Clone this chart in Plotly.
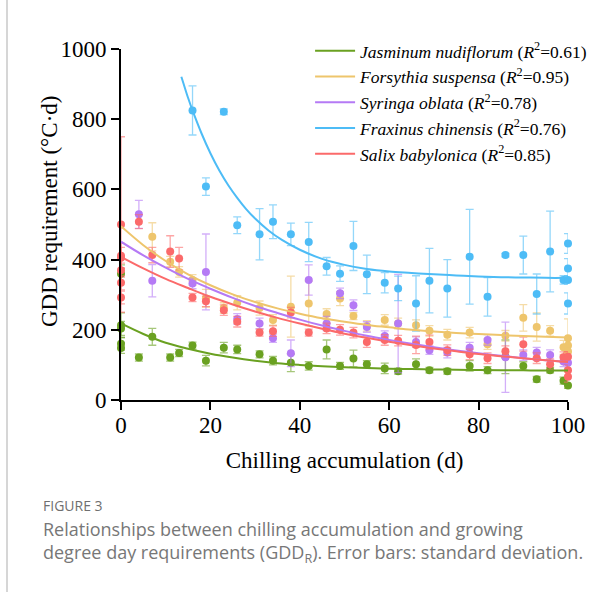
import plotly.graph_objects as go

# ---- observations: chilling accumulation (d), GDD requirement (°C·d), SD ----
jas_x = [0, 0, 0, 0, 0, 4, 7, 11, 13, 16, 19, 23, 26, 31, 34, 38, 42, 46, 49, 52, 55,
         59, 62, 66, 69, 73, 78, 82, 86, 90, 93, 96, 99, 100]
jas_y = [360, 213, 204, 160, 148, 121, 180, 121, 134, 155, 112, 149, 144, 130, 112, 106,
         97, 144, 97, 118, 102, 90, 82, 102, 85, 82, 97, 85, 123, 97, 59, 85, 55, 41]
jas_sd = [25, 35, 20, 18, 15, 10, 24, 10, 10, 10, 15, 15, 12, 10, 12, 25, 12, 27, 10, 24,
          10, 15, 8, 15, 8, 8, 15, 10, 48, 12, 8, 8, 10, 8]

for_x = [7, 11, 13, 16, 19, 23, 26, 31, 34, 38, 42, 46, 49, 52, 55, 59, 62, 66, 69, 73,
         78, 82, 86, 90, 93, 96, 99, 100, 100, 100]
for_y = [465, 394, 365, 342, 290, 262, 277, 262, 228, 266, 275, 245, 289, 239, 211, 228,
         218, 213, 197, 186, 192, 159, 183, 234, 208, 197, 150, 176, 155, 138]
for_sd = [40, 15, 15, 15, 25, 15, 20, 20, 15, 87, 64, 15, 20, 10, 15, 15, 15, 15, 15, 15,
          15, 15, 15, 38, 40, 15, 20, 55, 20, 15]

syr_x = [4, 7, 16, 19, 26, 31, 34, 38, 42, 46, 49, 52, 55, 59, 62, 66, 69, 73, 78, 82,
         86, 90, 93, 96, 99, 100]
syr_y = [529, 340, 332, 365, 231, 218, 176, 133, 342, 218, 304, 270, 208, 182, 218, 165,
         142, 135, 149, 171, 122, 128, 135, 128, 110, 106]
syr_sd = [40, 46, 15, 108, 15, 15, 12, 38, 43, 20, 15, 15, 15, 15, 140, 15, 12, 15, 15,
          15, 100, 15, 15, 15, 15, 15]

fra_x = [16, 19, 23, 26, 31, 34, 38, 42, 46, 49, 52, 55, 59, 62, 66, 69, 73, 78, 82, 86,
         90, 93, 96, 100, 100, 99, 100, 100]
fra_y = [825, 608, 821, 498, 472, 508, 472, 450, 381, 360, 439, 358, 334, 318, 275, 340,
         318, 408, 294, 413, 413, 302, 423, 446, 375, 342, 342, 275]
fra_sd = [70, 25, 8, 24, 73, 48, 32, 56, 25, 22, 70, 55, 29, 35, 79, 92, 82, 135, 55, 5,
          54, 57, 115, 28, 28, 12, 12, 30]

sal_x = [0, 0, 0, 0, 0, 0, 4, 7, 11, 13, 16, 19, 23, 26, 31, 34, 38, 42, 46, 49, 52, 55,
         59, 62, 66, 69, 73, 78, 82, 86, 90, 93, 96, 99, 100, 100, 100]
sal_y = [500, 411, 405, 370, 334, 292, 508, 413, 423, 403, 292, 281, 256, 223, 192, 196,
         249, 192, 204, 200, 192, 165, 171, 169, 157, 165, 142, 130, 119, 139, 159, 119,
         102, 122, 123, 85, 66]
sal_sd = [250, 35, 30, 20, 20, 18, 20, 22, 45, 32, 12, 15, 15, 15, 10, 15, 15, 10, 15, 15,
          15, 15, 15, 15, 25, 20, 15, 15, 15, 15, 20, 15, 15, 15, 15, 15, 15]

# ---- fitted response curves ----
fit_x = [0, 5, 10, 15, 20, 25, 30, 35, 40, 45, 50, 55, 60, 65, 70, 75, 80, 85, 90, 95, 100]
jas_fit = [218, 188, 163, 146, 132, 121, 112, 105, 100, 96, 93, 91, 89, 88, 87, 86, 85.5,
           85, 84.5, 84, 84]
for_fit = [495, 441, 396, 358, 327, 301, 279, 261, 246, 233, 223, 214, 207, 200, 195, 191,
           188, 185, 182, 180, 178]
syr_fit = [451, 412, 377, 345, 317, 291, 268, 248, 229, 212, 197, 183, 171, 160, 150, 141,
           133, 126, 119, 113, 108]
sal_fit = [408, 375, 345, 319, 294, 272, 252, 234, 218, 203, 189, 177, 166, 156, 147, 139,
           131, 125, 119, 113, 108]
fra_fit_x = [13.5, 14, 15, 16, 18, 20, 22, 24, 26, 28, 30, 33, 36, 40, 45, 50, 55, 60, 65,
             70, 75, 80, 85, 90, 95, 100]
fra_fit = [921, 901, 861, 825, 760, 703, 654, 612, 576, 544, 517, 483, 456, 428, 402, 385,
           373, 366, 362, 358, 355, 352, 350, 349, 348, 348]

species = [
    ("Jasminum nudiflorum", "0.61", jas_x, jas_y, jas_sd, fit_x, jas_fit, (106, 161, 33)),
    ("Forsythia suspensa", "0.95", for_x, for_y, for_sd, fit_x, for_fit, (238, 197, 108)),
    ("Syringa oblata", "0.78", syr_x, syr_y, syr_sd, fit_x, syr_fit, (181, 122, 245)),
    ("Fraxinus chinensis", "0.76", fra_x, fra_y, fra_sd, fra_fit_x, fra_fit, (77, 188, 246)),
    ("Salix babylonica", "0.85", sal_x, sal_y, sal_sd, fit_x, sal_fit, (251, 106, 106)),
]

SERIF = "Liberation Serif, Times New Roman, serif"
SANS = "Open Sans, Noto Sans, sans-serif"


def rgb(c, a=1.0):
    return f"rgba({c[0]},{c[1]},{c[2]},{a})"


fig = go.Figure()

# observed means with SD bars
for name, r2, x, y, sd, fx, fy, c in species:
    fig.add_trace(go.Scatter(
        x=x, y=y, mode="markers", showlegend=False, cliponaxis=False,
        marker=dict(size=8, color=rgb(c), line=dict(width=0)),
        error_y=dict(type="data", array=sd, visible=True, color=rgb(c, 0.6),
                     thickness=1.3, width=4),
    ))

# fitted curves (legend entries)
for name, r2, x, y, sd, fx, fy, c in species:
    fig.add_trace(go.Scatter(
        x=fx, y=fy, mode="lines", line=dict(color=rgb(c), width=2, shape="spline"),
        name=f"<i>{name}</i> (<i>R</i><sup>2</sup>=" + r2 + ")",
    ))

axis_common = dict(
    showline=True, linewidth=2, linecolor="black", mirror=False,
    ticks="outside", ticklen=8, tickwidth=2, tickcolor="black",
    showgrid=False, zeroline=False,
    tickfont=dict(family=SERIF, size=23, color="black"),
)

fig.update_layout(
    width=614, height=592,
    margin=dict(l=121, r=46, t=49, b=192),
    paper_bgcolor="white", plot_bgcolor="white",
    xaxis=dict(range=[0, 100], tickvals=[0, 20, 40, 60, 80, 100], ticklabelstandoff=-5,
               title=dict(text="Chilling accumulation (d)",
                          font=dict(family=SERIF, size=23, color="black"), standoff=15),
               **axis_common),
    yaxis=dict(range=[0, 1000], tickvals=[0, 200, 400, 600, 800, 1000], **axis_common),
    legend=dict(x=0.423, y=1.046, xanchor="left", yanchor="top",
                bgcolor="rgba(0,0,0,0)", font=dict(family=SERIF, size=17.5, color="black"),
                tracegroupgap=0, itemwidth=40),
    showlegend=True,
)

# y-axis title
fig.add_annotation(xref="paper", yref="paper", x=(49 - 121) / 447, y=(400 - 212) / 351,
                   xanchor="center", yanchor="middle", showarrow=False, textangle=-90,
                   text="GDD requirement (°C·d)",
                   font=dict(family=SERIF, size=23, color="black"))

# page frame rule on the left
fig.add_shape(type="line", xref="paper", yref="paper",
              x0=(7 - 121) / 447, x1=(7 - 121) / 447, y0=400 / 351, y1=(400 - 592) / 351,
              line=dict(color="#d6d6d6", width=2))

# figure caption
fig.add_annotation(xref="paper", yref="paper", x=(41 - 121) / 447, y=(400 - 505) / 351,
                   xanchor="left", yanchor="middle", showarrow=False,
                   text="FIGURE 3", font=dict(family=SANS, size=14, color="#6f6f6f"))
fig.add_annotation(xref="paper", yref="paper", x=(41 - 121) / 447, y=(400 - 542) / 351,
                   xanchor="left", yanchor="middle", showarrow=False, align="left",
                   text="Relationships between chilling accumulation and growing<br>"
                        "degree day requirements (GDD<sub>R</sub>). Error bars: standard deviation.",
                   font=dict(family=SANS, size=18, color="#777777"))

fig.write_html("out.html")
